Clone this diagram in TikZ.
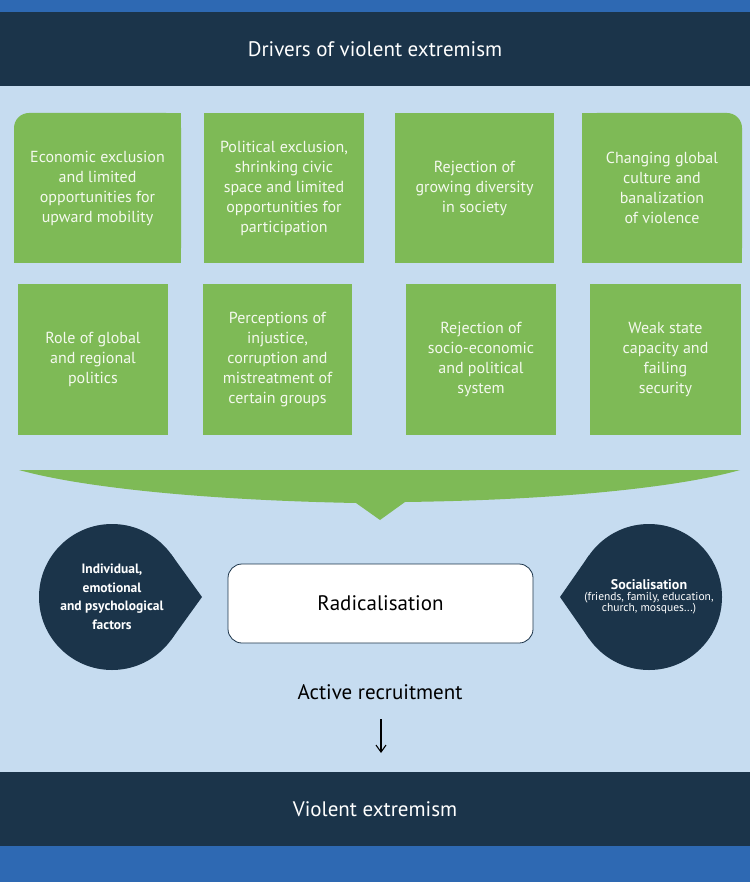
\documentclass[tikz,border=0pt]{standalone}
\usepackage{fontspec}
\setmainfont{PT Sans}
\usetikzlibrary{arrows.meta}
\definecolor{stripe}{HTML}{2E69B3}
\definecolor{navy}{HTML}{1B344A}
\definecolor{bgblue}{HTML}{C6DCF0}
\definecolor{grn}{HTML}{7EBA56}
\definecolor{boxtxt}{HTML}{F4F9EE}
\tikzset{
  band/.style={fill=navy, text=white, minimum width=750pt, minimum height=74pt, inner sep=0pt, font=\fontsize{21}{24}\selectfont},
  driver/.style={fill=grn, text=boxtxt, inner sep=0pt, align=center, font=\fontsize{16}{20}\selectfont},
  bubble/.style={circle, fill=navy, text=white, minimum size=146pt, inner sep=0pt, align=center},
  plain/.style={font=\fontsize{21}{24}\selectfont, inner sep=0pt},
  arrowline/.style={line width=1.1pt, -{Straight Barb[length=7pt,width=10pt,line width=1.1pt]}}
}
\begin{document}
\begin{tikzpicture}[x=1pt,y=-1pt]
\useasboundingbox (0,0) rectangle (750,882);
\fill[bgblue] (0,0) rectangle (750,882);
\fill[stripe] (0,0) rectangle (750,12);
\fill[stripe] (0,846) rectangle (750,882);
\node[band] (header) at (375,49) {\raisebox{-1.5pt}{Drivers of violent extremism}};
\node[band] (footer) at (375,809) {\raisebox{-1pt}{Violent extremism}};
% row 1
\fill[grn] (14,140) rectangle (181,263);
\fill[grn] (40,113) rectangle (181,263);
\node[driver, rounded corners=15pt, minimum width=167pt, minimum height=150pt] (d1) at (97.5,188) {Economic exclusion\\and limited\\opportunities for\\upward mobility};
\node[driver, minimum width=160pt, minimum height=150pt] (d2) at (284,188) {Political exclusion,\\shrinking civic\\space and limited\\opportunities for\\participation};
\node[driver, minimum width=159pt, minimum height=150pt] (d3) at (474.5,188) {Rejection of\\growing diversity\\in society};
\fill[grn] (582,140) rectangle (742,263);
\fill[grn] (582,113) rectangle (716,263);
\node[driver, rounded corners=15pt, minimum width=160pt, minimum height=150pt] (d4) at (662,188) {Changing global\\culture and\\banalization\\of violence};
% row 2
\node[driver, minimum width=150pt, minimum height=151pt] (d5) at (93,359.5) {Role of global\\and regional\\politics};
\node[driver, minimum width=149pt, minimum height=151pt] (d6) at (277.5,359.5) {Perceptions of\\injustice,\\corruption and\\mistreatment of\\certain groups};
\node[driver, minimum width=150pt, minimum height=151pt] (d7) at (481,359.5) {Rejection of\\socio-economic\\and political\\system};
\node[driver, minimum width=151pt, minimum height=151pt] (d8) at (665.5,359.5) {Weak state\\capacity and\\failing\\security};
% banner
\fill[grn] (19,470) -- (740,470) .. controls (680,487) and (560,500) .. (405,502) -- (380,520) -- (356,503) .. controls (200,500) and (80,487) .. (19,470) -- cycle;
% bubbles
\fill[navy] (171.2,554.3) -- (202,597) -- (171.2,639.7) -- cycle;
\node[bubble, font=\bfseries\fontsize{13.5}{18.5}\selectfont] (indiv) at (112,597) {Individual,\\emotional\\and psychological\\factors};
\fill[navy] (589.1,555.2) -- (560,597) -- (589.1,638.8) -- cycle;
\node[bubble] (social) at (649,597) {{\bfseries\fontsize{14}{16}\selectfont Socialisation}\\[-1pt]{\fontsize{11.5}{15}\selectfont (friends, family, education,}\\[-1pt]{\fontsize{11.5}{15}\selectfont church, mosques...)}};
% radicalisation
\node[draw=navy, line width=0.8pt, fill=white, rounded corners=14pt, minimum width=305pt, minimum height=79pt, plain] (radical) at (380.5,603.5) {Radicalisation};
\node[plain] (recruit) at (380,692) {Active recruitment};
\coordinate (arrStart) at (381,719);
\coordinate (arrEnd) at (381,753);
\draw[arrowline] (arrStart) -- (arrEnd);
\end{tikzpicture}
\end{document}
